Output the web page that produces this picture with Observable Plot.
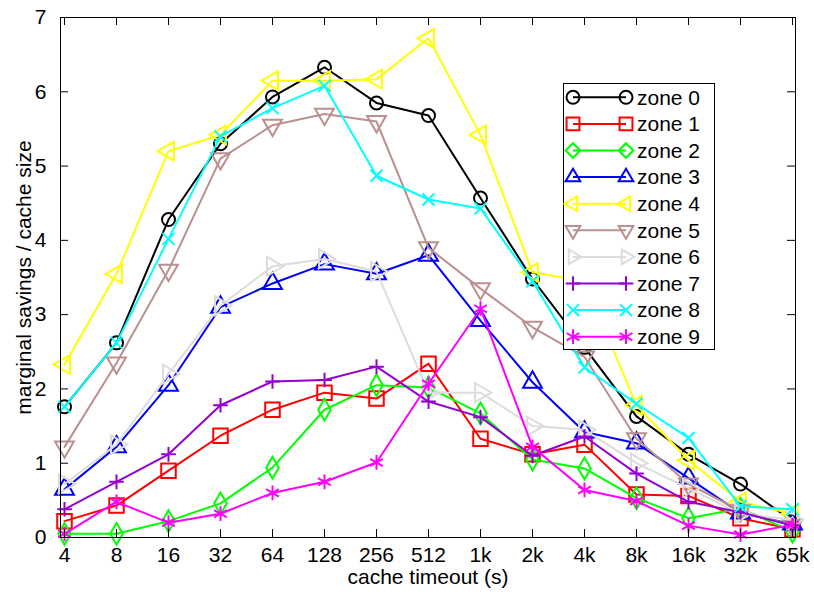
<!DOCTYPE html>
<html>
<head>
<meta charset="utf-8">
<script src="https://cdn.jsdelivr.net/npm/d3@7"></script>
<script src="https://cdn.jsdelivr.net/npm/@observablehq/plot@0.6"></script>
<style>
  html, body { margin: 0; padding: 0; background: #fff; }
  #chart svg { display: block; }
</style>
</head>
<body>
<div id="chart"></div>
<script>
const xLabels = ["4","8","16","32","64","128","256","512","1k","2k","4k","8k","16k","32k","65k"];
const yTicks = [0, 1, 2, 3, 4, 5, 6, 7];
const zoneNames = ["zone 0","zone 1","zone 2","zone 3","zone 4","zone 5","zone 6","zone 7","zone 8","zone 9"];
const zoneColors = ["#000000","#ff0000","#00ff00","#0000ff","#ffff00","#bc8f8f","#dcdcdc","#9400d3","#00ffff","#ff00ff"];

const zone0 = [1.76, 2.62, 4.28, 5.30, 5.93, 6.33, 5.85, 5.68, 4.57, 3.48, 2.56, 1.63, 1.12, 0.72, 0.22];
const zone1 = [0.22, 0.43, 0.90, 1.37, 1.72, 1.95, 1.87, 2.34, 1.33, 1.12, 1.25, 0.58, 0.56, 0.26, 0.11];
const zone2 = [0.05, 0.05, 0.22, 0.46, 0.94, 1.72, 2.05, 2.02, 1.67, 1.05, 0.93, 0.53, 0.26, 0.39, 0.08];
const zone3 = [0.65, 1.22, 2.05, 3.10, 3.42, 3.68, 3.55, 3.80, 2.92, 2.09, 1.42, 1.27, 0.80, 0.33, 0.18];
const zone4 = [2.33, 3.55, 5.20, 5.42, 6.15, 6.15, 6.17, 6.72, 5.42, 3.57, 3.45, 1.78, 1.04, 0.48, 0.32];
const zone5 = [1.22, 2.35, 3.60, 5.10, 5.55, 5.70, 5.60, 3.90, 3.35, 2.83, 2.43, 1.33, 0.72, 0.36, 0.16];
const zone6 = [0.72, 1.25, 2.20, 3.12, 3.65, 3.75, 3.58, 1.95, 1.95, 1.50, 1.45, 1.00, 0.66, 0.32, 0.24];
const zone7 = [0.38, 0.75, 1.12, 1.78, 2.10, 2.12, 2.30, 1.83, 1.62, 1.10, 1.36, 0.86, 0.48, 0.34, 0.16];
const zone8 = [1.76, 2.62, 4.02, 5.40, 5.78, 6.08, 4.87, 4.55, 4.43, 3.45, 2.29, 1.80, 1.34, 0.42, 0.38];
const zone9 = [0.05, 0.48, 0.20, 0.32, 0.60, 0.75, 1.01, 2.07, 3.08, 1.22, 0.64, 0.49, 0.16, 0.04, 0.17];

const zones = [zone0, zone1, zone2, zone3, zone4, zone5, zone6, zone7, zone8, zone9];

// marker styles per zone (symbol, rotation, radius)
const markers = [
  {symbol: "circle",   rotate: 0,   r: 6.5, d3s: d3.symbolCircle},
  {symbol: "square",   rotate: 0,   r: 8.2, d3s: d3.symbolSquare2},
  {symbol: "diamond",  rotate: 0,   r: 6.6, d3s: d3.symbolDiamond2},
  {symbol: "triangle", rotate: 0,   r: 7,   d3s: d3.symbolTriangle2},
  {symbol: "triangle", rotate: -90, r: 7,   d3s: d3.symbolTriangle2},
  {symbol: "triangle", rotate: 180, r: 7,   d3s: d3.symbolTriangle2},
  {symbol: "triangle", rotate: 90,  r: 7,   d3s: d3.symbolTriangle2},
  {symbol: "plus",     rotate: 0,   r: 4.8, d3s: d3.symbolPlus},
  {symbol: "times",    rotate: 0,   r: 5.5, d3s: d3.symbolTimes},
  {symbol: "asterisk", rotate: 0,   r: 7,   d3s: d3.symbolAsterisk}
];

const W = 814, H = 595;
const mL = 60, mR = 19, mT = 17, mB = 58;
const plotW = W - mL - mR, plotH = H - mT - mB;
const FONT = "'Liberation Sans', Arial, Helvetica, sans-serif";
const TICK = 8;
const SW = 2;

const marks = [];
zones.forEach((vals, i) => {
  const data = xLabels.map((x, j) => ({x, y: vals[j]}));
  marks.push(Plot.line(data, {x: "x", y: "y", stroke: zoneColors[i], strokeWidth: SW}));
  marks.push(Plot.dot(data, {
    x: "x", y: "y",
    symbol: markers[i].symbol,
    rotate: markers[i].rotate,
    r: markers[i].r,
    stroke: zoneColors[i],
    fill: "none",
    strokeWidth: SW
  }));
});

const chart = Plot.plot({
  width: W,
  height: H,
  marginLeft: mL,
  marginRight: mR,
  marginTop: mT,
  marginBottom: mB,
  style: {fontFamily: FONT, fontSize: "21px", color: "#000", background: "#fff"},
  x: {type: "point", domain: xLabels, padding: 0},
  y: {domain: [0, 7]},
  marks: [
    ...marks,
    Plot.frame({stroke: "#000", strokeWidth: 1}),
    // inward ticks on all four sides
    Plot.tickX(xLabels, {x: d => d, insetTop: plotH - TICK, stroke: "#000", strokeWidth: 1}),
    Plot.tickX(xLabels, {x: d => d, insetBottom: plotH - TICK, stroke: "#000", strokeWidth: 1}),
    Plot.tickY(yTicks, {y: d => d, insetRight: plotW - TICK, stroke: "#000", strokeWidth: 1}),
    Plot.tickY(yTicks, {y: d => d, insetLeft: plotW - TICK, stroke: "#000", strokeWidth: 1}),
    Plot.axisX({tickSize: 0, tickPadding: 10, label: null, fontSize: 21}),
    Plot.axisY({ticks: yTicks, tickSize: 0, tickPadding: 14, label: null, fontSize: 21, tickFormat: d3.format("d")}),
    Plot.text(["cache timeout (s)"], {frameAnchor: "bottom", dy: 46, fontSize: 21, fill: "#000", textAnchor: "middle"}),
    Plot.text(["marginal savings / cache size"], {frameAnchor: "left", dx: -36, rotate: -90, fontSize: 21, fill: "#000", textAnchor: "middle"})
  ]
});

document.getElementById("chart").appendChild(chart);

// Legend (opaque box inside the plot, top right)
const svg = d3.select(chart);
const lg = svg.append("g")
  .attr("font-family", FONT).attr("font-size", 21).attr("text-anchor", "start");
const boxX = 563, boxY = 83, boxW = 151, rowH = 26.6;
lg.append("rect")
  .attr("x", boxX + 0.5).attr("y", boxY + 0.5)
  .attr("width", boxW).attr("height", rowH * zoneNames.length)
  .attr("fill", "#fff").attr("stroke", "#000").attr("stroke-width", 1);
zoneNames.forEach((name, i) => {
  const cy = boxY + rowH / 2 + 1 + i * rowH;
  const x1 = 573, x2 = 626;
  const c = zoneColors[i];
  lg.append("path").attr("d", `M${x1},${cy}H${x2}`)
    .attr("fill", "none").attr("stroke", c).attr("stroke-width", SW);
  const m = markers[i];
  const path = d3.symbol(m.d3s, Math.PI * m.r * m.r)();
  [x1, x2].forEach(px => {
    lg.append("path").attr("d", path)
      .attr("transform", `translate(${px},${cy}) rotate(${m.rotate})`)
      .attr("fill", "none").attr("stroke", c).attr("stroke-width", SW);
  });
  lg.append("text").attr("x", 637).attr("y", cy).attr("dy", "0.35em")
    .attr("text-anchor", "start").attr("fill", "#000").text(name);
});
</script>
</body>
</html>
